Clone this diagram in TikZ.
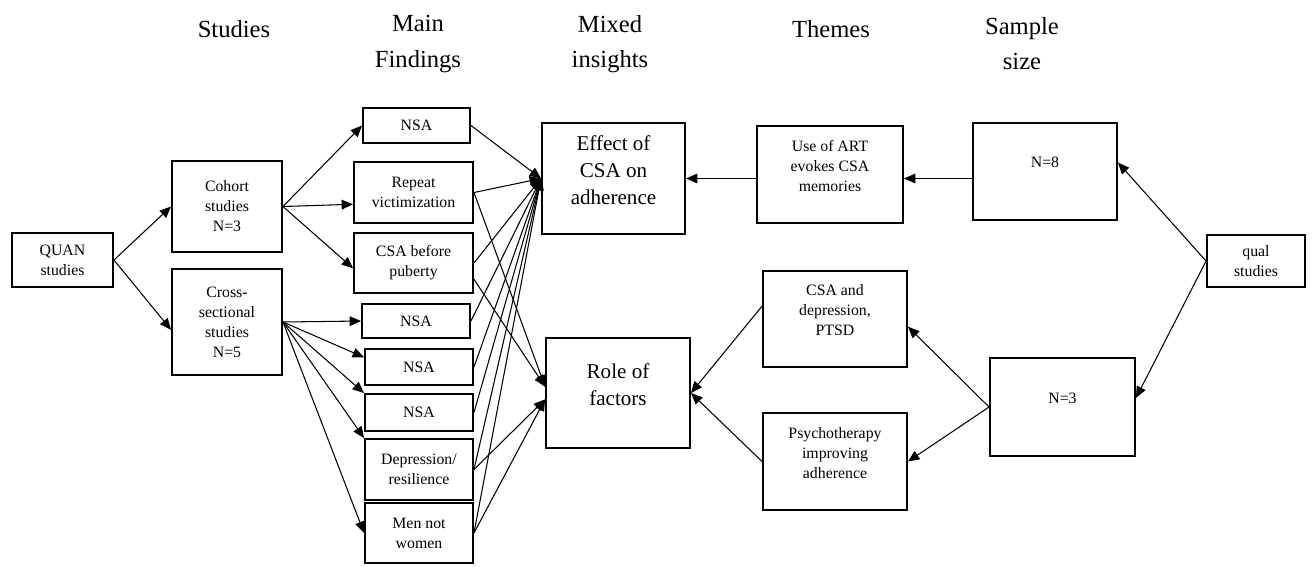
\documentclass[tikz,border=0pt]{standalone}
\usepackage{fontspec}
\setmainfont{Liberation Serif}
\usetikzlibrary{arrows.meta}
\begin{document}
\begin{tikzpicture}[x=0.02cm,y=-0.02cm]
    \tikzset{box/.style = {draw=black,line width=1.1pt,align=center,inner sep=0pt,font=\fontsize{9}{11.4}\selectfont},
             tall/.style = {box,execute at end node={\rule[-10pt]{0pt}{10pt}}},
             big/.style = {tall,font=\fontsize{12}{15.4}\selectfont},
             head/.style = {align=center,font=\fontsize{14}{20}\selectfont},
             arr/.style = {line width=.6pt,-{Triangle[length=6.5pt,width=5.5pt]}}}
    \useasboundingbox (0,0) rectangle (1314,566);
    % column titles
    \node[head] (h1) at (234,29) {Studies};
    \node[head] (h2) at (418,44) {Main\\Findings};
    \node[head] (h3) at (610,44) {Mixed\\insights};
    \node[head] (h4) at (831,29) {Themes};
    \node[head] (h5) at (1022,44) {Sample\\size};
    % quantitative side
    \node[box,minimum width=2.02cm,minimum height=1.08cm] (quan) at (62.5,260) {QUAN\\studies};
    \node[box,minimum width=2.2cm,minimum height=1.82cm] (cohort) at (227,206.5) {Cohort\\studies\\N=3};
    \node[box,minimum width=2.2cm,minimum height=2.12cm] (cross) at (227,322) {Cross-\\sectional\\studies\\N=5};
    \node[box,minimum width=2.14cm,minimum height=0.7cm] (nsa1) at (416.5,125.5) {NSA};
    \node[box,minimum width=2.38cm,minimum height=1.22cm] (rep) at (413.5,192.5) {Repeat\\victimization};
    \node[box,minimum width=2.38cm,minimum height=1.2cm] (pub) at (413.5,263) {CSA before\\puberty};
    \node[box,minimum width=2.16cm,minimum height=0.68cm] (nsa2) at (416,321) {NSA};
    \node[box,minimum width=2.16cm,minimum height=0.72cm] (nsa3) at (419,367) {NSA};
    \node[box,minimum width=2.16cm,minimum height=0.74cm] (nsa4) at (419,412.5) {NSA};
    \node[box,minimum width=2.16cm,minimum height=1.22cm] (dep) at (419,469.5) {Depression/\\resilience};
    \node[box,minimum width=2.16cm,minimum height=1.2cm] (men) at (419,533) {Men not\\women};
    % mixed insights
    \node[big,minimum width=2.86cm,minimum height=2.22cm] (effect) at (613.5,178.5) {Effect of\\CSA on\\adherence};
    \node[big,minimum width=2.88cm,minimum height=2.2cm] (role) at (618,393) {Role of\\factors};
    % qualitative side
    \node[tall,minimum width=2.92cm,minimum height=1.94cm] (art) at (830,174.5) {Use of ART\\evokes CSA\\memories};
    \node[tall,minimum width=2.88cm,minimum height=1.92cm] (csadep) at (835,319) {CSA and\\depression,\\PTSD};
    \node[tall,minimum width=2.88cm,minimum height=1.94cm] (psych) at (835,461.5) {Psychotherapy\\improving\\adherence};
    \node[tall,minimum width=2.88cm,minimum height=1.94cm] (n8) at (1045,171.5) {N=8};
    \node[tall,minimum width=2.9cm,minimum height=1.96cm] (n3) at (1062.5,407) {N=3};
    \node[box,minimum width=1.96cm,minimum height=1.04cm] (qual) at (1256,261) {qual\\studies};
    % arrows
    \draw[arr] (quan.east) -- (cohort.west);
    \draw[arr] (quan.east) -- (cross.188);
    \draw[arr] (cohort.east) -- (nsa1.west);
    \draw[arr] (cohort.east) -- (rep.191);
    \draw[arr] (cohort.east) -- (pub.185);
    \draw[arr] (cross.east) -- (nsa2.west);
    \draw[arr] (cross.east) -- (nsa3.170);
    \draw[arr] (cross.east) -- (nsa4.north west);
    \draw[arr] (cross.east) -- (dep.north west);
    \draw[arr] (cross.east) -- (men.west);
    \foreach \f in {nsa1,rep,pub,nsa2,nsa3,nsa4,dep,men}
        \draw[arr] (\f.east) -- (effect.west);
    \draw[arr] (rep.east) -- (role.175);
    \draw[arr] (pub.345) -- (role.175);
    \draw[arr] (dep.east) -- (role.185);
    \draw[arr] (men.east) -- (role.185);
    \draw[arr] (art.west |- effect.east) -- (effect.east);
    \draw[arr] (n8.west |- effect.east) -- (art.east |- effect.east);
    \draw[arr] (qual.west) -- (n8.7);
    \draw[arr] (qual.west) -- (n3.7);
    \draw[arr] (n3.west) -- (csadep.354);
    \draw[arr] (n3.west) -- (psych.east);
    \draw[arr] (csadep.170) -- (role.east);
    \draw[arr] (psych.west) -- (role.east);
\end{tikzpicture}
\end{document}
